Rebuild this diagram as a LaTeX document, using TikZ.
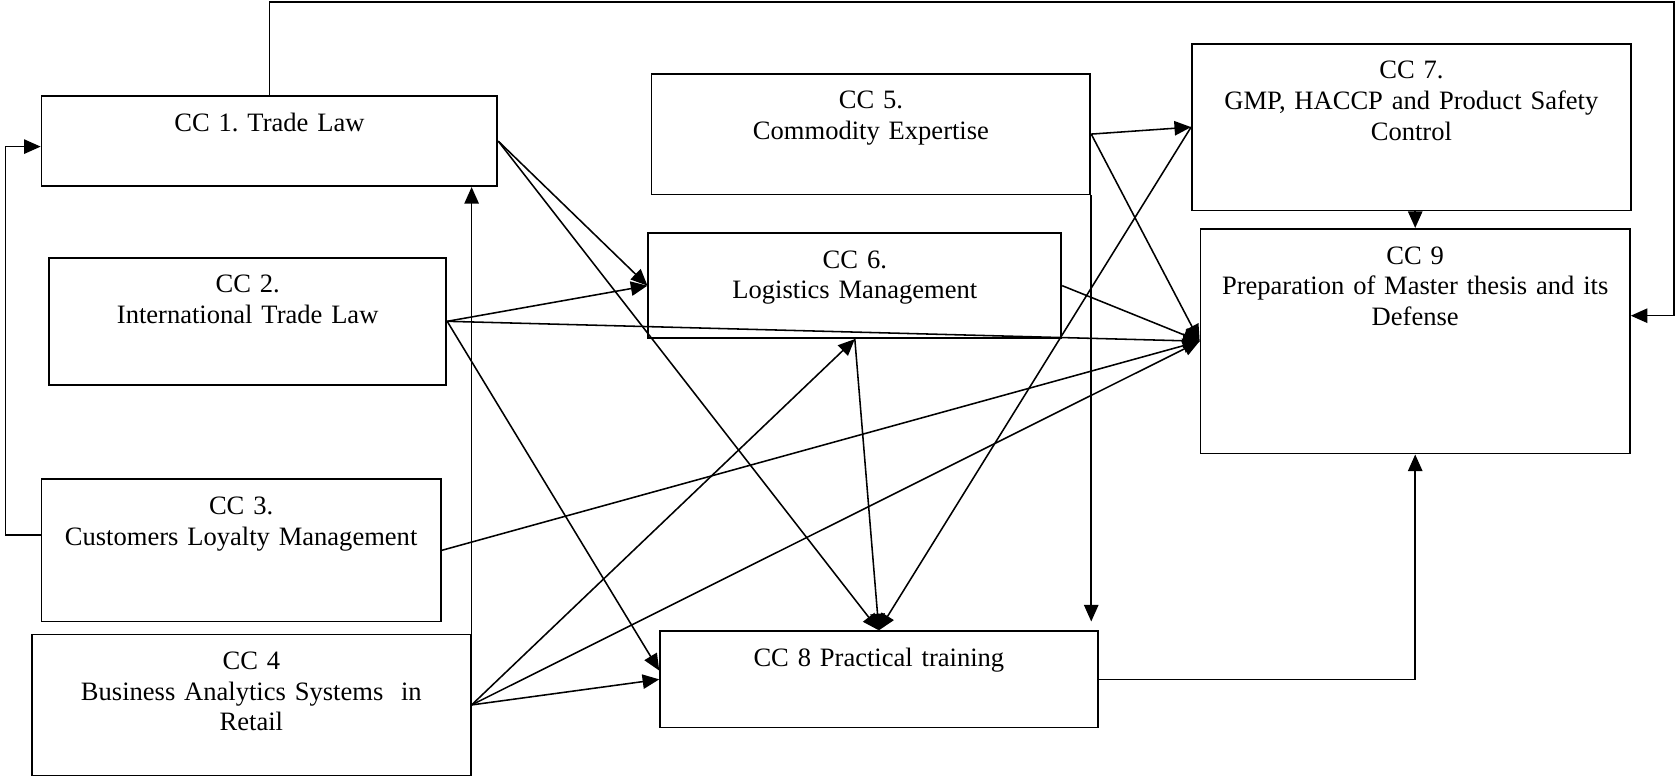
\documentclass[tikz,border=0pt]{standalone}
\usepackage{fontspec}
\setmainfont{Liberation Serif}
\usepackage{tikz}
\usetikzlibrary{arrows.meta}
\frenchspacing
\tikzset{
  ccbox/.style={rectangle, draw, line width=0.8pt, anchor=north west, inner sep=0pt, align=center, text height=0.56cm},
  arrow/.style={-{Triangle[length=7.5pt, width=6.5pt]}, line width=0.7pt},
}

\begin{document}
\begin{tikzpicture}[x=0.017cm, y=-0.017cm, font=\fontsize{12}{13.8}\selectfont]
  \useasboundingbox (0,0) rectangle (1568,725);

  % Nodes
  \node[ccbox, text width=7.24cm, text depth=0.87cm] (cc1) at (38,89) {CC 1. Trade Law};
  \node[ccbox, text width=6.31cm, text depth=1.46cm] (cc2) at (45,240) {CC 2.\\International Trade Law};
  \node[ccbox, text width=6.34cm, text depth=1.70cm] (cc3) at (38,447) {CC 3.\\Customers Loyalty Management};
  \node[ccbox, text width=6.97cm, text depth=1.68cm] (cc4) at (29,592) {CC 4\\Business Analytics Systems \ in\\Retail};

  \node[ccbox, text width=6.97cm, text depth=1.36cm] (cc5) at (608,68) {CC 5.\\Commodity Expertise};
  \node[ccbox, text width=6.56cm, text depth=1.11cm] (cc6) at (605,217) {CC 6.\\Logistics Management};
  \node[ccbox, text width=6.95cm, text depth=0.97cm] (cc8) at (616,589) {CC 8 Practical training};

  \node[ccbox, text width=6.97cm, text depth=2.09cm] (cc7) at (1113,40) {CC 7.\\GMP, HACCP and Product Safety\\Control};
  \node[ccbox, text width=6.82cm, text depth=3.01cm] (cc9) at (1121,213) {CC 9\\Preparation of Master thesis and its\\Defense};

  % Loop from CC 1 round the top to CC 9
  \coordinate (topR) at (1564,2);
  \coordinate (backIn) at (1564,295);
  \draw[arrow] (cc1.north) |- (topR) -- (backIn) -- (cc9.east |- backIn);

  % Loop from CC 3 round the left to CC 1
  \coordinate (loopL) at (5,500);
  \draw[arrow] (cc3.west |- loopL) -- (loopL) -- (loopL |- 0,137) -- (cc1.west |- 0,137);

  % CC 4 up to CC 1
  \draw[arrow] (cc4.north east) -- (cc4.north east |- cc1.south);

  % CC 1 and CC 2 to the middle column
  \draw[arrow] (cc1.east) -- (cc6.west);
  \draw[arrow] (cc1.east) -- (cc8.north);
  \draw[arrow] (cc2.east) -- (cc6.west);
  \draw[arrow] (cc2.east) -- (cc9.west);
  \draw[arrow] (cc2.east) -- ([yshift=0.14cm]cc8.west);

  % CC 3 and CC 4
  \draw[arrow] (cc3.east) -- (cc9.west);
  \draw[arrow] (cc4.east) -- (cc6.south);
  \draw[arrow] (cc4.east) -- (cc9.west);
  \draw[arrow] (cc4.east) -- (cc8.west);

  % CC 5 and CC 6
  \draw[arrow] (cc5.east) -- (cc7.west);
  \draw[arrow] (cc5.east) -- (cc9.west);
  \draw[arrow] (cc5.south east) -- ([yshift=0.14cm]cc5.south east |- cc8.north);
  \draw[arrow] (cc6.east) -- (cc9.west);
  \draw[arrow] (cc6.south) -- (cc8.north);

  % CC 7 and CC 8
  \draw[arrow] (cc7.west) -- (cc8.north);
  \draw[arrow] (cc9.north |- cc7.south) -- (cc9.north);
  \draw[arrow] (cc8.east) -| (cc9.south);

\end{tikzpicture}
\end{document}
